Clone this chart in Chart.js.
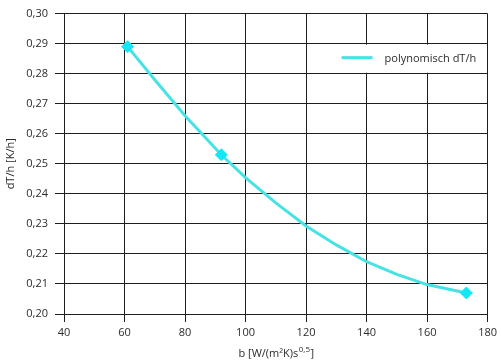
<!DOCTYPE html>
<html>
<head>
<meta charset="utf-8">
<script src="https://cdn.jsdelivr.net/npm/chart.js@4.4.1/dist/chart.umd.min.js"></script>
<style>
  html, body { margin: 0; padding: 0; background: #fff; }
  #wrap { width: 501px; height: 363px; }
</style>
</head>
<body>
<div id="wrap"><canvas id="dtChart"></canvas></div>
<script>
// polynomial curve
const curveX = [61, 70, 80, 92, 100, 110, 120, 130, 140, 150, 160, 173];
const curveY = [0.289, 0.278, 0.266, 0.253, 0.2454, 0.237, 0.2293, 0.223, 0.2174, 0.2132, 0.2098, 0.207];
// measured points (diamonds)
const pointX = [61, 92, 173];
const pointY = [0.289, 0.253, 0.207];

const yTickLabels = ['0,20', '0,21', '0,22', '0,23', '0,24', '0,25', '0,26', '0,27', '0,28', '0,29', '0,30'];
const seriesLabel = 'polynomisch dT/h';
const xTitleParts = ['b [W/(m²K)s', '0,5', ']'];
const yTitle = 'dT/h [K/h]';

const FONT = '"Open Sans", "Noto Sans", sans-serif';
const TEXT = '#2b2b2b';
const GRID = '#1e1e1e';
const LINE = '#45e2e6';
const MARK = '#14e6f5';

// legend box sitting in the plot, plus the x title with its superscript
const extras = {
  id: 'extras',
  afterDatasetsDraw(chart) {
    const { ctx, chartArea, scales } = chart;
    const top = scales.y.getPixelForValue(0.29) + 1;
    const bottom = scales.y.getPixelForValue(0.28) - 1;
    const x0 = chartArea.right - 168;
    ctx.save();
    ctx.fillStyle = '#fff';
    ctx.fillRect(x0, top, chartArea.right - 1 - x0, bottom - top);
    const midY = (top + bottom) / 2 - 1;
    ctx.strokeStyle = LINE;
    ctx.lineWidth = 3;
    ctx.beginPath();
    ctx.moveTo(chartArea.right - 146, midY);
    ctx.lineTo(chartArea.right - 115, midY);
    ctx.stroke();
    ctx.fillStyle = TEXT;
    ctx.font = '11px ' + FONT;
    ctx.textBaseline = 'middle';
    ctx.textAlign = 'left';
    ctx.fillText(seriesLabel, chartArea.right - 103, midY + 1);
    ctx.restore();
  },
  afterDraw(chart) {
    const { ctx, chartArea } = chart;
    ctx.save();
    ctx.fillStyle = TEXT;
    ctx.textBaseline = 'alphabetic';
    ctx.font = '11px ' + FONT;
    const w0 = ctx.measureText(xTitleParts[0]).width;
    ctx.font = '8px ' + FONT;
    const w1 = ctx.measureText(xTitleParts[1]).width;
    ctx.font = '11px ' + FONT;
    const w2 = ctx.measureText(xTitleParts[2]).width;
    let x = (chartArea.left + chartArea.right) / 2 - (w0 + w1 + w2) / 2;
    const base = 357;
    ctx.textAlign = 'left';
    ctx.fillText(xTitleParts[0], x, base);
    x += w0;
    ctx.font = '8px ' + FONT;
    ctx.fillText(xTitleParts[1], x + 0.5, base - 5);
    x += w1 + 1;
    ctx.font = '11px ' + FONT;
    ctx.fillText(xTitleParts[2], x, base);
    ctx.restore();
  }
};

new Chart(document.getElementById('dtChart'), {
  type: 'scatter',
  data: {
    datasets: [
      {
        label: seriesLabel,
        data: curveX.map((x, i) => ({ x, y: curveY[i] })),
        showLine: true,
        borderColor: LINE,
        borderWidth: 3,
        pointRadius: 0,
        tension: 0,
        order: 2
      },
      {
        label: 'Messpunkte',
        data: pointX.map((x, i) => ({ x, y: pointY[i] })),
        showLine: false,
        pointStyle: 'rectRot',
        pointRadius: 6,
        backgroundColor: MARK,
        borderColor: MARK,
        borderWidth: 1,
        order: 1
      }
    ]
  },
  options: {
    responsive: true,
    maintainAspectRatio: false,
    animation: false,
    layout: { padding: { left: 4, right: 12, top: 8, bottom: 0 } },
    plugins: {
      legend: { display: false },
      tooltip: { enabled: false }
    },
    scales: {
      x: {
        type: 'linear',
        min: 40,
        max: 180,
        ticks: { stepSize: 20, color: TEXT, font: { family: FONT, size: 11 }, padding: 4 },
        grid: { color: GRID, lineWidth: 1, tickLength: 8, tickColor: GRID },
        border: { color: GRID, width: 1 },
        afterFit: s => { s.height = 49; }
      },
      y: {
        type: 'linear',
        min: 0.2,
        max: 0.3,
        ticks: {
          stepSize: 0.01,
          color: TEXT,
          font: { family: FONT, size: 11 },
          padding: 7,
          callback: v => yTickLabels[Math.round((v - 0.2) * 100)]
        },
        grid: { color: GRID, lineWidth: 1, tickLength: 9, tickColor: GRID },
        border: { color: GRID, width: 1 },
        title: {
          display: true,
          text: yTitle,
          color: TEXT,
          font: { family: FONT, size: 11 },
          padding: { top: 0, bottom: 0 }
        },
        afterFit: s => { s.width = 60; }
      }
    }
  },
  plugins: [extras]
});
</script>
</body>
</html>
